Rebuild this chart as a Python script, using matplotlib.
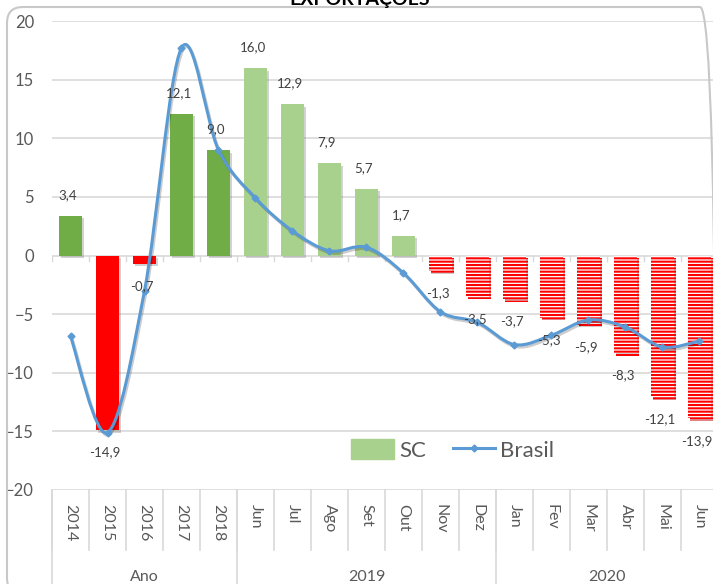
import numpy as np
import matplotlib
matplotlib.use("Agg")
import matplotlib.pyplot as plt
from matplotlib.path import Path
from matplotlib.patches import PathPatch, FancyBboxPatch, Patch
from matplotlib.lines import Line2D
from matplotlib.transforms import blended_transform_factory
import matplotlib.patheffects as pe

plt.rcParams['font.family'] = ['Lato', 'DejaVu Sans']
plt.rcParams['hatch.linewidth'] = 1.5

# categories: 5 yearly values, then monthly values for 2019 and 2020
labels = ['2014', '2015', '2016', '2017', '2018',
          'Jun', 'Jul', 'Ago', 'Set', 'Out', 'Nov', 'Dez',
          'Jan', 'Fev', 'Mar', 'Abr', 'Mai', 'Jun']
groups = ['Ano', '2019', '2020']
group_sizes = [5, 7, 6]

sc = [3.4, -14.9, -0.7, 12.1, 9.0,
      16.0, 12.9, 7.9, 5.7, 1.7, -1.3, -3.5,
      -3.7, -5.3, -5.9, -8.3, -12.1, -13.9]
brasil = [-6.9, -15.1, -3.0, 17.7, 9.0,
          4.9, 2.1, 0.4, 0.7, -1.5, -4.8, -5.7,
          -7.6, -6.8, -5.5, -6.1, -7.8, -7.3]

DARK_GREEN = '#70ad47'
LIGHT_GREEN = '#a9d18e'
RED = '#ff0000'
BLUE = '#5b9bd5'
GRID = '#d9d9d9'
TXT = '#595959'

fig = plt.figure(figsize=(7.13, 5.84), dpi=100)
W, H = 713, 584
ax = fig.add_axes([52 / W, 1 - 490 / H, 666 / W, 469 / H])

x = np.arange(len(sc))
n_years = group_sizes[0]
shadow = [pe.withSimplePatchShadow(offset=(1.5, -2), shadow_rgbFace='#7f7f7f', alpha=0.35)]
for i, v in enumerate(sc):
    if i < n_years:
        kw = dict(color=DARK_GREEN if v >= 0 else RED)
    elif v >= 0:
        kw = dict(color=LIGHT_GREEN)
    else:
        kw = dict(facecolor='white', edgecolor=RED, hatch='-----', linewidth=0)
    b = ax.bar(x[i], v, width=0.6, zorder=2, **kw)
    b[0].set_path_effects(shadow)
    ax.annotate(f'{v:.1f}'.replace('.', ','), (x[i], v),
                xytext=(-2, 15 if v >= 0 else -16), textcoords='offset points',
                ha='center', va='center', fontsize=9.5, color='#404040', zorder=5)

# smoothed line (cubic Bezier segments through the points, Excel style)
pts = np.column_stack([x, brasil]).astype(float)
verts = [pts[0]]
codes = [Path.MOVETO]
for i in range(len(pts) - 1):
    p0 = pts[i - 1] if i > 0 else pts[i]
    p1, p2 = pts[i], pts[i + 1]
    p3 = pts[i + 2] if i + 2 < len(pts) else pts[i + 1]
    verts += [p1 + (p2 - p0) / 6, p2 - (p3 - p1) / 6, p2]
    codes += [Path.CURVE4] * 3
ax.add_patch(PathPatch(Path(verts, codes), fill=False, edgecolor=BLUE, lw=2.2, zorder=4,
                       path_effects=[pe.SimpleLineShadow(offset=(1, -1.5), alpha=0.2), pe.Normal()]))
ax.plot(x, brasil, ls='none', marker='D', ms=3.5, color=BLUE, zorder=4)

ax.set_xlim(-0.5, len(sc) - 0.5)
ax.set_ylim(-20, 20)
ax.set_yticks(np.arange(-20, 21, 5))
ax.yaxis.grid(True, color=GRID, lw=1.2, zorder=0)
ax.set_axisbelow(True)
for s in ax.spines.values():
    s.set_visible(False)
ax.tick_params(axis='y', length=0, pad=13, labelsize=12, labelcolor=TXT)
ax.set_xticks(x, labels, rotation=270)
ax.tick_params(axis='x', length=0, pad=10, labelsize=11.5, labelcolor=TXT)

# tick marks on the zero line
for k in range(len(sc) + 1):
    ax.plot([k - 0.5, k - 0.5], [0, -0.45], color=GRID, lw=1, zorder=1)

# multi-level category axis below the plot
tr = blended_transform_factory(ax.transData, ax.transAxes)
for k in range(len(sc) + 1):
    ax.plot([k - 0.5, k - 0.5], [0, -0.128], color=GRID, lw=1.2, transform=tr, clip_on=False)
start = -0.5
for g, n in zip(groups, group_sizes):
    ax.plot([start, start], [0, -0.25], color=GRID, lw=1.2, transform=tr, clip_on=False)
    ax.text(start + n / 2, -0.1855, g, transform=tr, ha='center', va='center',
            fontsize=11.5, color=TXT)
    start += n
ax.plot([start, start], [0, -0.25], color=GRID, lw=1.2, transform=tr, clip_on=False)

leg = ax.legend(handles=[Patch(color=LIGHT_GREEN, label='SC'),
                         Line2D([], [], color=BLUE, lw=2.2, marker='D', ms=3.5, label='Brasil')],
                loc='center', bbox_to_anchor=(0.602, 0.085), ncol=2, frameon=False,
                fontsize=16, handlelength=1.9, handleheight=1.0, handletextpad=0.25,
                columnspacing=1.2, labelcolor=TXT)

# chart frame with rounded corners
fig.patches.append(FancyBboxPatch((7, -10), 709, 587, boxstyle='round,pad=0,rounding_size=16',
                                  transform=None, fill=False, edgecolor='#c8c8c8', lw=1.5))
fig.text(0.505, 1 - 4.5 / H, 'EXPORTAÇÕES', ha='center', va='baseline',
         fontsize=14, fontweight='bold', color='black')

fig.savefig('out.png', dpi=100)
